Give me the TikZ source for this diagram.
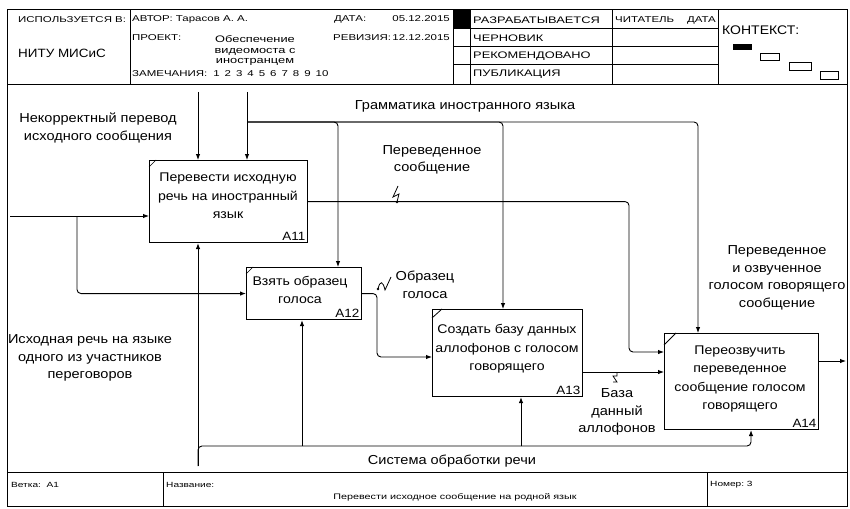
\documentclass[tikz,border=0pt]{standalone}
\usepackage{fontspec}
\setmainfont{Liberation Sans}
\newfontfamily\hfont[FakeStretch=1.35]{Liberation Sans}
\newfontfamily\mfont[FakeStretch=1.12]{Liberation Sans}
\usetikzlibrary{arrows.meta}
\begin{document}
\begin{tikzpicture}[x=1pt,y=-1pt,
  frame/.style={line width=1pt},
  conn/.style={line width=0.9pt, rounded corners=4pt},
  arr/.style={conn, -{Latex[length=6pt,width=4.5pt]}},
  fbox/.style={draw, line width=1.1pt, inner sep=0pt, anchor=north west},
  btext/.style={align=center, inner sep=0pt, font=\mfont\fontsize{12.6}{18.5}\selectfont},
  blabel/.style={anchor=south east, inner sep=2.5pt, font=\mfont\fontsize{12}{13}\selectfont},
  lbl/.style={align=center, inner sep=0pt, font=\mfont\fontsize{13}{17.5}\selectfont},
  hdr/.style={anchor=west, inner sep=0pt, font=\hfont\fontsize{8.5}{10}\selectfont},
  hdrr/.style={anchor=west, inner sep=0pt, font=\hfont\fontsize{9.5}{10}\selectfont},
  ftr/.style={anchor=west, inner sep=0pt, font=\hfont\fontsize{7.5}{8}\selectfont},
  squig/.style={line width=0.8pt}
]
\useasboundingbox (0,0) rectangle (850,508);
\fill[white] (0,0) rectangle (850,508);

% ---------- frame ----------
\draw[frame] (7,10) rectangle (847,506);
\draw[frame] (7,85) -- (847,85);
\draw[frame] (130,10) -- (130,85);
\draw[frame] (453,10) -- (453,85);
\draw[frame] (470,10) -- (470,85);
\draw[frame] (612,10) -- (612,85);
\draw[frame] (718,10) -- (718,85);
\draw[frame] (453,29) -- (718,29);
\draw[frame] (453,47) -- (718,47);
\draw[frame] (453,65) -- (718,65);
\fill (453,10) rectangle (470,29);
\draw[frame] (7,472) -- (847,472);
\draw[frame] (163,472) -- (163,506);
\draw[frame] (707,472) -- (707,506);

% ---------- header texts ----------
\node[hdr] (h1) at (18,20) {ИСПОЛЬЗУЕТСЯ В:};
\node[anchor=west, inner sep=0pt, font=\mfont\fontsize{12}{12}\selectfont] (h2) at (18,53) {НИТУ МИСиС};
\node[hdr] (h3) at (132,19) {АВТОР: Тарасов А. А.};
\node[hdr] (h4) at (334,19) {ДАТА:};
\node[hdr, anchor=east] (h5) at (450,19) {05.12.2015};
\node[hdr] (h6) at (132,38) {ПРОЕКТ:};
\node[hdr] (h7) at (333,38) {РЕВИЗИЯ:};
\node[hdr, anchor=east] (h8) at (450,38) {12.12.2015};
\node[align=center, inner sep=0pt, font=\hfont\fontsize{9.5}{10.5}\selectfont] (h9) at (255,51) {Обеспечение\\видеомоста с\\иностранцем};
\node[hdr] (h10) at (132,74) {ЗАМЕЧАНИЯ:\hspace{6pt}1\hspace{5pt}2\hspace{5pt}3\hspace{5pt}4\hspace{5pt}5\hspace{5pt}6\hspace{5pt}7\hspace{5pt}8\hspace{5pt}9\hspace{5pt}10};
\node[hdrr] (h11) at (473,20) {РАЗРАБАТЫВАЕТСЯ};
\node[hdrr] (h12) at (473,38) {ЧЕРНОВИК};
\node[hdrr] (h13) at (473,56) {РЕКОМЕНДОВАНО};
\node[hdrr] (h14) at (473,74) {ПУБЛИКАЦИЯ};
\node[hdr] (h15) at (615,20) {ЧИТАТЕЛЬ};
\node[hdr, anchor=east] (h16) at (716,20) {ДАТА};
\node[anchor=west, inner sep=0pt, font=\mfont\fontsize{12.5}{13}\selectfont] (h17) at (722,30) {КОНТЕКСТ:};
\fill (733,44) rectangle (752,50);
\draw[line width=0.9pt] (760,53) rectangle (779,60);
\draw[line width=0.9pt] (789,62) rectangle (811,70);
\draw[line width=0.9pt] (820,71) rectangle (838,79);

% ---------- footer texts ----------
\node[ftr] (f1) at (11,485) {Ветка:\ \ А1};
\node[ftr] (f2) at (166,485) {Название:};
\node[inner sep=0pt, font=\hfont\fontsize{8}{9}\selectfont] (f3) at (455,497) {Перевести исходное сообщение на родной язык};
\node[ftr] (f4) at (710,485) {Номер:\ 3};

% ---------- function boxes ----------
\node[fbox, minimum width=158pt, minimum height=82pt] (a11) at (149,160) {};
\node[fbox, minimum width=115pt, minimum height=52pt] (a12) at (246,267) {};
\node[fbox, minimum width=150pt, minimum height=87pt] (a13) at (432,309) {};
\node[fbox, minimum width=154pt, minimum height=96pt] (a14) at (664,333) {};

\node[btext] (a11t) at (228,196) {Перевести исходную\\речь на иностранный\\язык};
\node[btext] (a12t) at (300,290) {Взять образец\\голоса};
\node[btext] (a13t) at (507,349) {Создать базу данных\\аллофонов с голосом\\говорящего};
\node[btext] (a14t) at (740,379) {Переозвучить\\переведенное\\сообщение голосом\\говорящего};

\node[blabel] (a11l) at (a11.south east) {A11};
\node[blabel] (a12l) at (a12.south east) {A12};
\node[blabel] (a13l) at (a13.south east) {A13};
\node[blabel] (a14l) at (a14.south east) {A14};

\draw[line width=0.6pt] (a11.north west) ++(0,7) -- ++(7,-7);
\draw[line width=0.6pt] (a12.north west) ++(0,7) -- ++(7,-7);
\draw[line width=0.8pt] (a13.north west) ++(0,9) -- ++(10,-9);
\draw[line width=0.8pt] (a14.north west) ++(0,12) -- ++(12,-12);

% ---------- coordinates ----------
\coordinate (inL) at (10,216);
\coordinate (brA) at (77,216);
\coordinate (ctlA) at (198,92);
\coordinate (ctlB) at (247,92);
\coordinate (gr0) at (247,122);
\coordinate (gx2) at (338,122);
\coordinate (gx3) at (503,122);
\coordinate (gx4) at (698,122);
\coordinate (t1) at (629,352);
\coordinate (t2) at (377,357);
\coordinate (t3) at (600,372);
\coordinate (t4) at (846,361);
\coordinate (m0) at (198,466);
\coordinate (m2) at (302,446);
\coordinate (m3) at (521,446);
\coordinate (m4) at (751,446);
\coordinate (s1) at (397,202);
\coordinate (s2) at (378,289);
\coordinate (s3) at (617,372);

% ---------- inputs ----------
\draw[arr] (inL) -- (inL -| a11.west);
\draw[arr] (brA) |- (a12.west);

% ---------- controls ----------
\draw[arr] (ctlA) -- (ctlA |- a11.north);
\draw[arr] (ctlB) -- (ctlB |- a11.north);
\draw[arr] (gr0) -| (gx2 |- a12.north);
\draw[arr] (gr0) -| (gx3 |- a13.north);
\draw[arr] (gr0) -| (gx4 |- a14.north);

% ---------- outputs ----------
\draw[arr] (a11.east) -| (t1) -- (t1 -| a14.west);
\draw[arr] (a12.east) -| (t2) -- (t2 -| a13.west);
\draw[arr] (t3 -| a13.east) -- (t3 -| a14.west);
\draw[arr] (t4 -| a14.east) -- (t4);

% ---------- mechanisms ----------
\draw[arr] (m0) -- (m0 |- a11.south);
\draw[conn] (m0) |- (m3);
\draw[arr] (m2) -- (m2 |- a12.south);
\draw[arr] (m3) -- (m3 |- a13.south);
\draw[arr] (m3) -| (m4 |- a14.south);

% ---------- labels ----------
\node[lbl] (l1) at (98,128) {Некорректный перевод\\исходного сообщения};
\node[lbl] (l2) at (465,106) {Грамматика иностранного языка};
\node[lbl] (l3) at (432,160) {Переведенное\\сообщение};
\node[lbl] (l4) at (425,285) {Образец\\голоса};
\node[lbl] (l5) at (90,358) {Исходная речь на языке\\одного из участников\\переговоров};
\node[lbl] (l6) at (777,278) {Переведенное\\и озвученное\\голосом говорящего\\сообщение};
\node[lbl] (l7) at (617,412) {База\\данный\\аллофонов};
\node[lbl] (l8) at (452,461) {Система обработки речи};

% ---------- squiggles ----------
\draw[squig] (s1) -- ++(2,-8) -- ++(-6,3) -- ++(5,-11);
\fill (s1) circle (1.3pt);
\draw[squig] (s2) .. controls (380,280) and (383,281) .. (385,290) -- (391,277);
\fill (s2) circle (1.3pt);
\draw[squig] (s3) -- ++(0,4) -- ++(-4,0) -- ++(4,6) -- ++(-4,0);
\end{tikzpicture}
\end{document}
